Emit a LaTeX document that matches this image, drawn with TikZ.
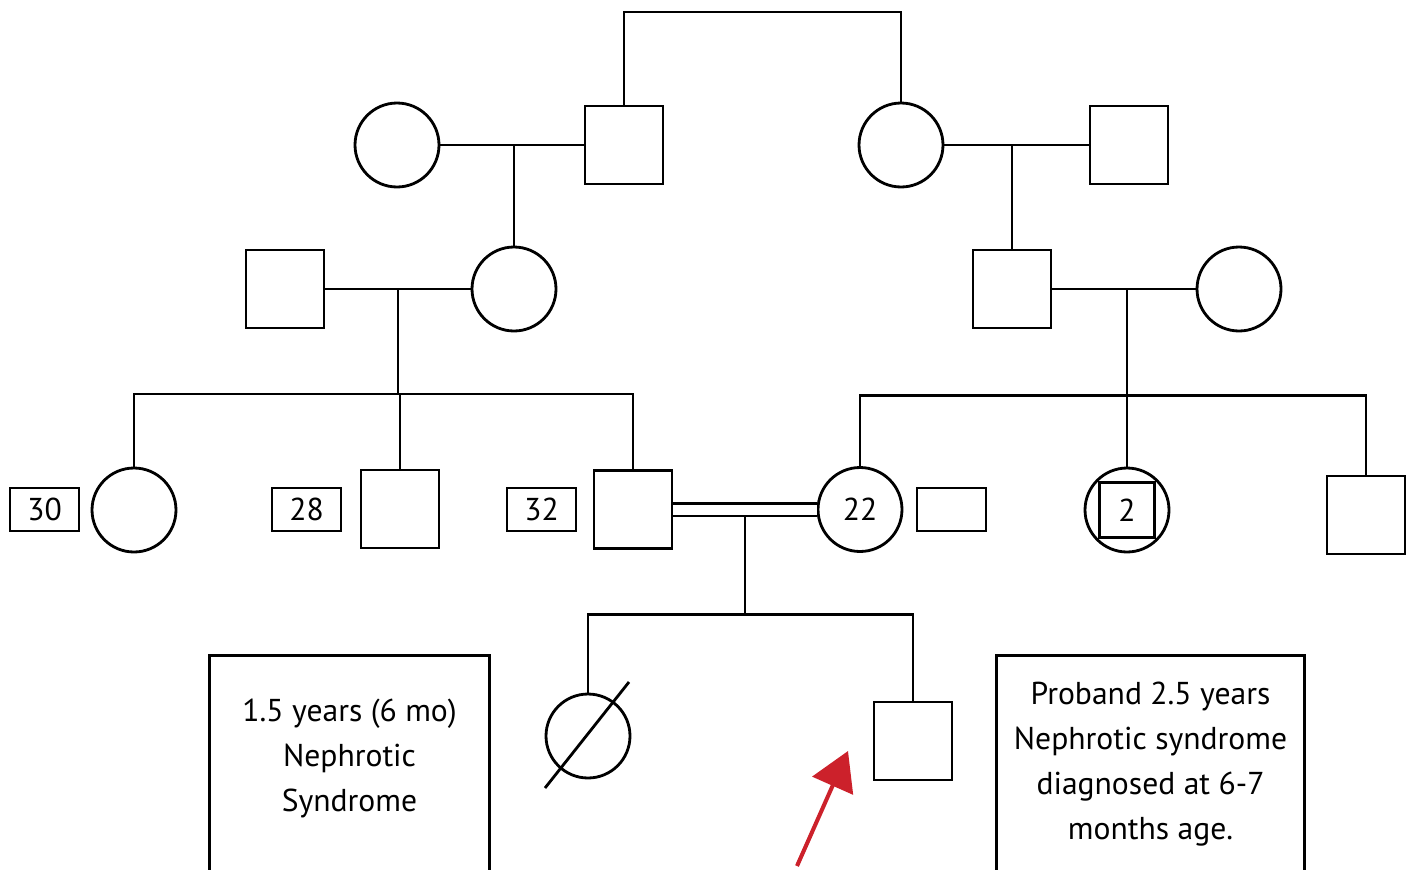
\documentclass[tikz,border=0pt]{standalone}
\usepackage{fontspec}
\setmainfont{PT Sans}
\usetikzlibrary{arrows.meta}
\definecolor{probandred}{RGB}{204,33,43}

\begin{document}
\begin{tikzpicture}[x=0.02cm,y=-0.02cm,line width=1.6pt,
	font=\fontsize{18}{25.6}\selectfont,
	male/.style={draw,minimum size=1.56cm,inner sep=0pt},
	female/.style={draw,circle,minimum size=1.68cm,inner sep=0pt},
	agebox/.style={draw,minimum width=1.38cm,minimum height=0.86cm,inner sep=0pt},
	notebox/.style={align=center,inner sep=0pt}]
				\useasboundingbox (0,0) rectangle (1416,869);
				% first generation
				\node[female] (gmL) at (397,145) {};
				\node[male] (gfL) at (624,145) {};
				\node[female] (gmR) at (901,145) {};
				\node[male] (gfR) at (1129,145) {};
				\coordinate (topbar) at (760,12);
				\draw (gfL.north) |- (topbar) -| (gmR.north);
				\draw (gmL) -- (gfL) coordinate[midway] (mL);
				\draw (gmR) -- (gfR) coordinate[midway] (mR);
				
				% second generation
				\node[male] (faE) at (285,289) {};
				\node[female] (moF) at (514,289) {};
				\node[male] (faG) at (1012,289) {};
				\node[female] (moH) at (1239,289) {};
				\draw (moF.north) |- (mL);
				\draw (faG.north) |- (mR);
				\draw (faE) -- (moF) coordinate[midway] (mE);
				\draw (faG) -- (moH) coordinate[midway] (mG);
				
				% third generation
				\node[female] (aunt) at (134,510) {};
				\node[male] (uncle) at (400,509) {};
				\node[male] (father) at (633,509.5) {};
				\node[female] (mother) at (860,509.5) {22};
				\node[female] (sister) at (1127,510) {};
				\node[male,minimum size=1.1cm] (sisbox) at (sister) {2};
				\node[male] (brother) at (1366,515) {};
				\foreach \x/\n/\age in {44.5/a30/30,306.5/a28/28,541.5/a32/32,951.5/a22/{}}
					\node[agebox] (\n) at (\x,509.5) {\age};
				\draw (mE) -- ++(0,105) coordinate (sL);
				\draw (aunt.north) |- (sL) -| (father.north);
				\draw (uncle.north) |- (sL);
				\path (sister.north) ++(0,-71) coordinate (sR);
				\draw (sister.north) |- (mG);
				\draw (mother.north) |- (sR) -| (brother.north);
				
				% children of the cousins
				\node[female] (sib) at (588,736) {};
				\node[male] (proband) at (913,741) {};
				\path (father) -- (mother) coordinate[midway] (mC);
				\draw (mC) -- ++(0,105) coordinate (sC);
				\draw (sib.north) |- (sC) -| (proband.north);
				\draw[double,double distance=0.2cm] (father) -- (mother);
				\draw ([shift={(-43,52)}]sib.center) -- ([shift={(41,-54)}]sib.center);
				
				% notes
				\node[notebox,minimum width=5.54cm,minimum height=3.96cm] (note1) at (349.5,758)
					{1.5 years (6 mo)\\Nephrotic\\Syndrome};
				\draw ([yshift=-1cm]note1.south west) -- ([yshift=0.04cm]note1.north west) -- ([yshift=0.04cm]note1.north east) -- ([yshift=-1cm]note1.south east);
				\node[notebox,minimum width=6.1cm,minimum height=4.2cm] (note2) at (1150.5,764)
					{Proband 2.5 years\\Nephrotic syndrome\\diagnosed at 6-7\\months age.};
				\draw ([yshift=-1cm]note2.south west) -- ([yshift=0.04cm]note2.north west) -- ([yshift=0.04cm]note2.north east) -- ([yshift=-1cm]note2.south east);
				
				\coordinate (arrtail) at (797,866);
				\coordinate (arrtip) at (848,751);
				\draw[probandred,line width=2.3pt,-{Triangle[length=0.76cm,width=0.88cm]}] (arrtail) -- (arrtip);
	\end{tikzpicture}
\end{document}
